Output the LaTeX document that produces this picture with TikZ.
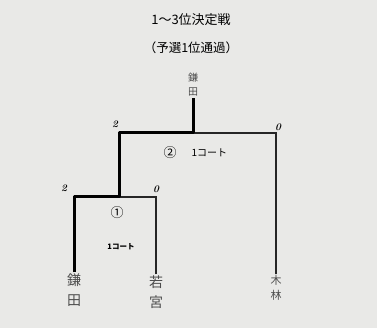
\documentclass[tikz,border=0pt]{standalone}
\usepackage{fontspec}
\newfontfamily\jp{Noto Sans CJK JP}
\usetikzlibrary{calc,positioning}
\definecolor{paper}{RGB}{233,233,231}

\begin{document}
\begin{tikzpicture}[x=1pt,y=-1pt,win/.style={line width=3pt,line join=round},lose/.style={line width=1.2pt,black!85},player/.style={font=\jp\fontsize{14}{20}\selectfont,align=center,inner sep=1pt,text=black!70},score/.style={font=\bfseries\itshape\fontsize{10}{10}\selectfont},lbl/.style={font=\jp\fontsize{10}{10}\selectfont}]
\fill[paper] (0,0) rectangle (377,328);
\node (title) at (191,20)[font=\jp\fontsize{13}{13}\selectfont] {1～3位決定戦};
\node (sub) at (191,48)[font=\jp\fontsize{12.5}{13}\selectfont] {（予選1位通過）};
\node (champ) at (193,85)[player,font=\jp\fontsize{10}{14}\selectfont] {鎌\\田};
\node (kamata) at (74,290)[player] {鎌\\田};
\node (wakamiya) at (156,292)[player] {若\\宮};
\node (kibayashi) at (276,288)[player,font=\jp\fontsize{11}{15}\selectfont] {木\\林};
\coordinate (semi) at (119,197);
\coordinate (final) at (193,133);
\draw[lose] (wakamiya.north) |- (semi);
\draw[lose] (kibayashi.north) |- (final);
\draw[win] (kamata.north) |- (semi) |- (final) -- (champ.south);
\node (s1) at (64,188)[score] {2};
\node (s2) at (156,189)[score] {0};
\node (s3) at (115,124)[score] {2};
\node (s4) at (278,127)[score] {0};
\node (m1) at (117,213)[lbl,font=\jp\fontsize{13}{13}\selectfont] {①};
\node (c1) at (121,247)[lbl,font=\jp\bfseries\fontsize{7.5}{8}\selectfont] {1コート};
\node (m2) at (170,153)[lbl,font=\jp\fontsize{13}{13}\selectfont] {②};
\node (c2) at (m2.east)[lbl,anchor=west,xshift=8pt] {1コート};
\end{tikzpicture}
\end{document}
